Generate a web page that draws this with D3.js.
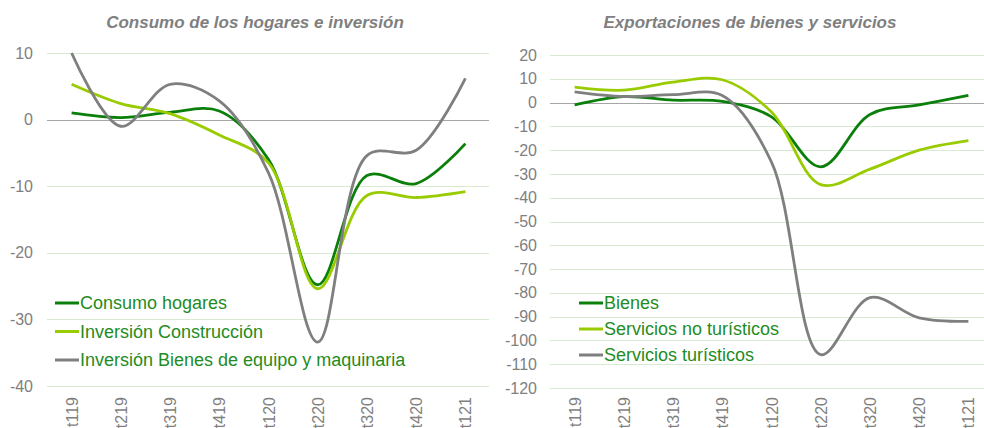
<!DOCTYPE html>
<html lang="es">
<head>
<meta charset="UTF-8">
<title>Consumo e exportaciones</title>
<script src="https://d3js.org/d3.v7.min.js"></script>
<style>
  body { margin: 0; background: #fff; }
  svg text { font-family: "Liberation Sans", Arial, sans-serif; }
  .title { font-size: 17px; font-weight: bold; font-style: italic; fill: #7f7f7f; }
  .tick-label { font-size: 16px; fill: #7f7f7f; }
  .legend-label { font-size: 18px; fill: #1f8c1f; }
</style>
</head>
<body>
<svg id="chart" width="984" height="428"></svg>
<script>
// quarters
const quarters = ["t119", "t219", "t319", "t419", "t120", "t220", "t320", "t420", "t121"];

// left panel: consumo de los hogares e inversión
const consumoHogares = [1.0, 0.3, 1.1, 1.3, -6.0, -24.8, -8.4, -9.6, -3.6];
const inversionConstruccion = [5.3, 2.4, 0.9, -2.3, -6.5, -25.4, -11.4, -11.7, -10.8];
const inversionBienesEquipo = [10.0, -1.0, 5.3, 2.8, -8.0, -33.4, -5.4, -4.6, 6.2];
const leftTicks = [10, 0, -10, -20, -30, -40];

// right panel: exportaciones
const bienes = [-1.0, 2.5, 1.0, 0.5, -6.0, -27.0, -5.0, -1.0, 3.0];
const serviciosNoTuristicos = [6.5, 5.2, 8.6, 9.6, -4.0, -34.5, -28.0, -20.0, -16.0];
const serviciosTuristicos = [4.5, 2.5, 3.3, 3.0, -25.0, -106.0, -82.0, -90.5, -92.0];
const rightTicks = [20, 10, 0, -10, -20, -30, -40, -50, -60, -70, -80, -90, -100, -110, -120];

const colors = { dark: "#0a7f0a", light: "#99cc00", gray: "#7f7f7f" };

const svg = d3.select("#chart");

function drawPanel(cfg) {
  const g = svg.append("g");

  const x = d3.scalePoint()
    .domain(quarters)
    .range([cfg.x0, cfg.x1])
    .padding(0.5);

  const y = d3.scaleLinear()
    .domain([cfg.ymin, cfg.ymax])
    .range([cfg.yBottom, cfg.yTop]);

  // title
  g.append("text")
    .attr("class", "title")
    .attr("x", cfg.titleX)
    .attr("y", 28)
    .attr("text-anchor", "middle")
    .text(cfg.title);

  // gridlines
  g.append("g").selectAll("line")
    .data(cfg.ticks)
    .join("line")
    .attr("x1", cfg.x0)
    .attr("x2", cfg.gridEnd)
    .attr("y1", d => Math.round(y(d)) + 0.5)
    .attr("y2", d => Math.round(y(d)) + 0.5)
    .attr("stroke", d => d === 0 ? "#a6a6a6" : "#d9ead3")
    .attr("stroke-width", 1.2);

  // y tick labels
  g.append("g").selectAll("text")
    .data(cfg.ticks)
    .join("text")
    .attr("class", "tick-label")
    .attr("x", cfg.labelX)
    .attr("y", d => y(d))
    .attr("dy", "0.35em")
    .attr("text-anchor", "end")
    .text(d => d < 0 ? "-" + Math.abs(d) : d);

  // x tick labels, rotated
  g.append("g").selectAll("text")
    .data(quarters)
    .join("text")
    .attr("class", "tick-label")
    .attr("transform", d => `translate(${x(d) + 6},397) rotate(-90)`)
    .attr("text-anchor", "end")
    .text(d => d);

  // centripetal catmull-rom, close to excel's smoothed lines
  const line = d3.line()
    .x((d, i) => x(quarters[i]))
    .y(d => y(d))
    .curve(d3.curveCatmullRom.alpha(0.5));

  g.append("g").selectAll("path")
    .data(cfg.series)
    .join("path")
    .attr("fill", "none")
    .attr("stroke", d => d.color)
    .attr("stroke-width", 2.8)
    .attr("d", d => line(d.values));

  // legend
  const leg = g.append("g").selectAll("g")
    .data(cfg.series)
    .join("g")
    .attr("transform", (d, i) => `translate(${cfg.legendX},${cfg.legendY + i * cfg.legendStep})`);
  leg.append("line")
    .attr("x1", 0).attr("x2", 24)
    .attr("y1", 0).attr("y2", 0)
    .attr("stroke", d => d.color)
    .attr("stroke-width", 3);
  leg.append("text")
    .attr("class", "legend-label")
    .attr("x", 25)
    .attr("dy", "0.35em")
    .text(d => d.name);
}

drawPanel({
  title: "Consumo de los hogares e inversión",
  titleX: 255,
  x0: 47, x1: 490, gridEnd: 489,
  ymin: -40, ymax: 10, yBottom: 386, yTop: 53,
  ticks: leftTicks,
  labelX: 33,
  legendX: 55, legendY: 303, legendStep: 28.5,
  series: [
    { name: "Consumo hogares", values: consumoHogares, color: colors.dark },
    { name: "Inversión Construcción", values: inversionConstruccion, color: colors.light },
    { name: "Inversión Bienes de equipo y maquinaria", values: inversionBienesEquipo, color: colors.gray }
  ]
});

drawPanel({
  title: "Exportaciones de bienes y servicios",
  titleX: 750,
  x0: 550, x1: 993, gridEnd: 984,
  ymin: -120, ymax: 20, yBottom: 388, yTop: 55,
  ticks: rightTicks,
  labelX: 537,
  legendX: 579, legendY: 303, legendStep: 26,
  series: [
    { name: "Bienes", values: bienes, color: colors.dark },
    { name: "Servicios no turísticos", values: serviciosNoTuristicos, color: colors.light },
    { name: "Servicios turísticos", values: serviciosTuristicos, color: colors.gray }
  ]
});
</script>
</body>
</html>
